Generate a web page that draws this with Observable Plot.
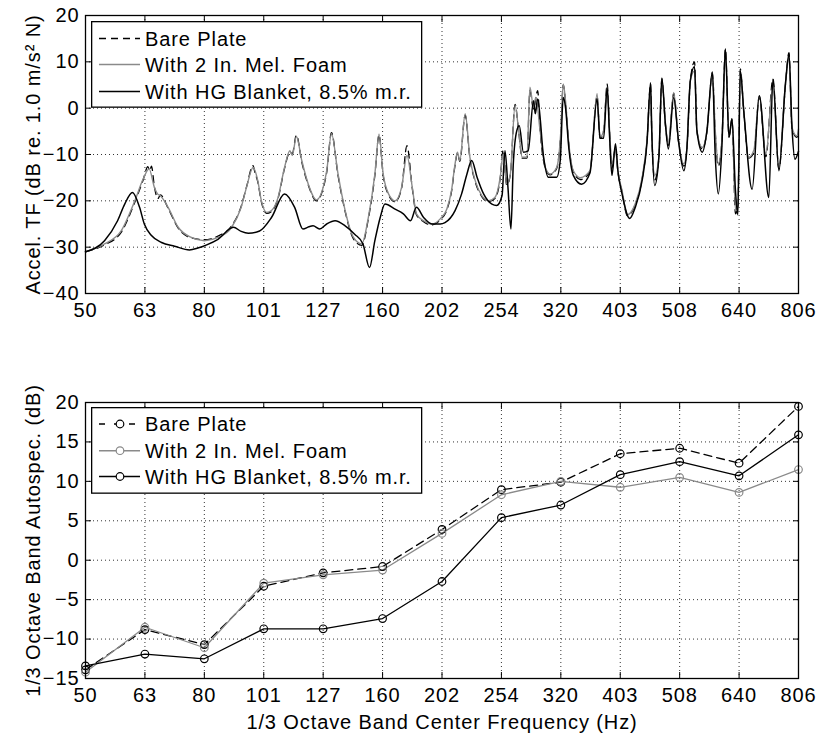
<!DOCTYPE html>
<html><head><meta charset="utf-8">
<script src="https://cdn.jsdelivr.net/npm/d3@7"></script>
<script src="https://cdn.jsdelivr.net/npm/@observablehq/plot@0.6"></script>
<style>
html,body{margin:0;padding:0;background:#fff;overflow:hidden;}
#wrap{position:relative;width:822px;height:734px;font-family:"Liberation Sans",Arial,sans-serif;}
#wrap svg{display:block;}
.legend{position:absolute;}
</style></head><body><div id="wrap"></div>
<script>
// 1/3 octave band positions (0 = 50 Hz band ... 12 = 806 Hz band) and their labels
const bandPos = [0,1,2,3,4,5,6,7,8,9,10,11,12];
const bandLabels = ["50","63","80","101","127","160","202","254","320","403","508","640","806"];
const tfTicks = [-40,-30,-20,-10,0,10,20];
const bandTicks = [-15,-10,-5,0,5,10,15,20];

// Top: accel. transfer function [band position, dB]
const bareTF = [[0,-31],[0.32,-29.5],[0.6,-26.8],[0.83,-20.3],[0.97,-15.5],[1.05,-12.6],[1.08,-13.5],[1.11,-12.5],[1.16,-17],[1.22,-19.5],[1.26,-18.7],[1.39,-21.6],[1.56,-25.9],[1.78,-28],[2.0,-28.4],[2.23,-27.6],[2.46,-25.4],[2.62,-21.2],[2.71,-17],[2.82,-12.4],[2.85,-13.8],[2.9,-15.9],[2.96,-20.2],[3.05,-22.7],[3.13,-22.3],[3.24,-19.5],[3.35,-13],[3.44,-9.5],[3.48,-9.8],[3.55,-5.8],[3.64,-11.6],[3.75,-16.6],[3.89,-20],[4.0,-17.3],[4.06,-13.8],[4.14,-5.3],[4.25,-14.5],[4.37,-22.3],[4.51,-28.2],[4.65,-29.6],[4.76,-23.9],[4.87,-14.5],[4.94,-5.8],[5.01,-14.5],[5.1,-18.7],[5.21,-20.2],[5.32,-17.3],[5.41,-8.1],[5.5,-17.3],[5.57,-23],[5.69,-24.5],[5.83,-25.2],[5.97,-24.1],[6.08,-22],[6.16,-18],[6.22,-12.3],[6.26,-9.7],[6.3,-11.5],[6.39,-1.5],[6.47,-10.8],[6.56,-15.9],[6.67,-19.1],[6.78,-20.2],[6.89,-19.5],[6.98,-15.1],[7.03,-9],[7.09,-16.6],[7.15,-14.4],[7.23,0.8],[7.29,-5],[7.35,-10.8],[7.43,-10.8],[7.48,3.8],[7.54,-0.2],[7.61,3.8],[7.65,-4.5],[7.74,-13],[7.82,-14.4],[7.93,-13],[8.0,-5.2],[8.04,5],[8.08,1.2],[8.13,-7.2],[8.21,-13.7],[8.33,-15.4],[8.49,-13.7],[8.61,2.6],[8.66,-6.5],[8.72,-5],[8.78,5.2],[8.82,-5],[8.86,-13],[8.92,-8.5],[8.96,-13.7],[9.03,-18],[9.12,-23.2],[9.25,-20.9],[9.37,-15.1],[9.45,-7.2],[9.51,5.2],[9.53,-5],[9.58,-15.5],[9.65,-10.8],[9.7,6.3],[9.76,-3.6],[9.81,-8],[9.9,3.2],[9.98,-7.2],[10.07,-12.5],[10.12,-9.2],[10.18,6],[10.25,10],[10.29,-5],[10.38,-8.8],[10.46,-5],[10.55,7.6],[10.6,-5.5],[10.65,-12.5],[10.71,-7.2],[10.77,12.8],[10.83,-6.2],[10.88,-2.5],[10.94,-22.8],[10.98,-21],[11.02,8.5],[11.08,-1],[11.16,-10.8],[11.25,-9.5],[11.34,2.5],[11.45,-10.5],[11.57,6.3],[11.67,-13.2],[11.78,5],[11.84,12],[11.89,-4.3],[11.97,-6.3],[12,-5]];
const foamTF = [[0,-31],[0.32,-29.3],[0.6,-26.5],[0.83,-20],[0.97,-15.3],[1.07,-13.1],[1.16,-17.1],[1.22,-18.6],[1.26,-18.9],[1.39,-21.4],[1.56,-25.7],[1.78,-27.9],[2.0,-28.6],[2.23,-27.9],[2.46,-25.7],[2.62,-21.4],[2.71,-17.1],[2.82,-12.8],[2.9,-15.7],[2.96,-20],[3.05,-22.5],[3.13,-22.1],[3.24,-19.3],[3.35,-12.8],[3.44,-9.2],[3.48,-10.2],[3.55,-6.1],[3.64,-11.3],[3.75,-16.4],[3.89,-19.8],[4.0,-17.1],[4.06,-13.5],[4.14,-5.5],[4.25,-14.2],[4.37,-22.1],[4.51,-27.9],[4.65,-29.3],[4.76,-23.6],[4.87,-14.2],[4.94,-5.6],[5.01,-14.2],[5.1,-18.5],[5.21,-20],[5.32,-17.1],[5.41,-10.2],[5.5,-17.1],[5.57,-22.8],[5.69,-24.3],[5.83,-25],[5.97,-23.9],[6.08,-21.8],[6.16,-17.8],[6.22,-12],[6.26,-9.5],[6.3,-11.3],[6.39,-1.2],[6.47,-10.6],[6.56,-15.7],[6.67,-18.9],[6.78,-20],[6.89,-19.3],[6.98,-14.9],[7.03,-9.9],[7.09,-16.4],[7.15,-14.2],[7.23,0.6],[7.29,-4.8],[7.35,-10.6],[7.43,-10.6],[7.48,4.5],[7.54,0.2],[7.58,2.3],[7.65,-4.8],[7.74,-12.8],[7.82,-14.2],[7.93,-12.8],[8.0,-5],[8.04,5.2],[8.08,1.5],[8.13,-7],[8.21,-13.5],[8.33,-15],[8.49,-13.5],[8.61,3.1],[8.66,-6.3],[8.72,-4.8],[8.78,4.5],[8.82,-4.8],[8.86,-12],[8.92,-9],[8.96,-13.5],[9.03,-17.8],[9.12,-23],[9.25,-20.7],[9.37,-14.9],[9.45,-7],[9.51,4],[9.53,-4.8],[9.58,-14.5],[9.65,-10.6],[9.7,6.3],[9.76,-3.4],[9.81,-7.5],[9.9,3.4],[9.98,-7],[10.07,-12],[10.12,-9],[10.18,6],[10.25,8],[10.29,-4.8],[10.38,-8.5],[10.46,-4.8],[10.55,7.8],[10.6,-5],[10.65,-12],[10.71,-7],[10.77,12],[10.83,-6],[10.88,-2.3],[10.94,-22.1],[10.98,-20],[11.02,8.1],[11.08,-0.8],[11.16,-10.6],[11.25,-9],[11.34,2.7],[11.45,-10],[11.57,5],[11.67,-12.8],[11.78,5.2],[11.84,11],[11.89,-4.1],[11.97,-6],[12,-4.5]];
const hgTF = [[0,-31],[0.32,-28.6],[0.54,-24.3],[0.66,-20.7],[0.79,-18.2],[0.91,-21.4],[0.99,-25],[1.11,-27.5],[1.28,-29],[1.5,-29.8],[1.75,-30.6],[1.89,-30.2],[2.04,-29.5],[2.23,-28.3],[2.49,-25.7],[2.62,-26.6],[2.74,-27],[2.93,-26.5],[3.13,-23.6],[3.35,-18.5],[3.52,-21.4],[3.66,-26.1],[3.76,-25.6],[3.83,-25.4],[3.94,-26.1],[4.06,-25],[4.2,-24.3],[4.37,-25.4],[4.53,-27.2],[4.67,-29.3],[4.78,-34.4],[4.87,-28.6],[4.96,-23.6],[5.04,-20.7],[5.21,-21.8],[5.35,-22.8],[5.47,-24.3],[5.57,-21.4],[5.69,-23.6],[5.83,-25],[5.97,-25],[6.05,-24.7],[6.22,-22.1],[6.33,-18.5],[6.42,-14.2],[6.5,-11.3],[6.59,-14.9],[6.7,-18.5],[6.84,-20.7],[6.92,-21],[7.01,-18.9],[7.06,-9.2],[7.11,-17.1],[7.16,-26.1],[7.2,-12],[7.26,-4.8],[7.3,-3.8],[7.37,-9.5],[7.45,-9.2],[7.54,1.6],[7.57,-1.2],[7.61,2],[7.71,-10.6],[7.79,-14.9],[7.93,-14.9],[7.99,-11.3],[8.04,2.3],[8.08,0],[8.13,-8],[8.21,-14.5],[8.35,-16.4],[8.49,-14],[8.61,2],[8.66,-6.5],[8.72,-6.5],[8.78,4.5],[8.82,-6],[8.86,-14.5],[8.92,-7.7],[8.96,-13.5],[9.03,-18.5],[9.16,-23.8],[9.25,-21.5],[9.37,-15.5],[9.45,-7.5],[9.51,5.5],[9.53,-4.8],[9.58,-16.7],[9.65,-10.6],[9.7,6.5],[9.76,-3.4],[9.81,-8.8],[9.9,2.3],[9.98,-7],[10.07,-13.5],[10.12,-9],[10.18,6],[10.25,9],[10.29,-4.8],[10.38,-9.5],[10.46,-4.8],[10.55,7.8],[10.6,-10.6],[10.65,-18.5],[10.71,-8.5],[10.77,12.8],[10.83,-6.3],[10.88,-2.3],[10.94,-18],[10.98,-23],[11.02,8.1],[11.08,-0.8],[11.22,-17.5],[11.34,2.7],[11.5,-19.3],[11.57,6.3],[11.67,-13.5],[11.78,5.2],[11.84,11.7],[11.89,-4.1],[11.94,-11],[12,-9.3]];

// Bottom: 1/3 octave band autospectrum (dB), one value per band
const bareBand = [-13.9,-8.8,-10.7,-3.3,-1.6,-0.8,3.9,8.95,9.9,13.5,14.2,12.3,19.5];
const foamBand = [-14.2,-8.5,-11.1,-2.9,-1.85,-1.25,3.4,8.3,10.0,9.25,10.5,8.6,11.5];
const hgBand   = [-13.4,-11.9,-12.5,-8.7,-8.7,-7.4,-2.7,5.4,7.0,10.85,12.5,10.7,15.9];

const seriesNames = ["Bare Plate","With 2 In. Mel. Foam","With HG Blanket, 8.5% m.r."];
const GRAY = "#8a8a8a";

const FONT = '"Liberation Sans", Arial, sans-serif';
const gridStyle = {stroke: "#000", strokeOpacity: 0.8, strokeDasharray: "1,3"};

function panel({height, marginTop, marginBottom, yDomain, yTicks, yLabel, xLabel, marks}) {
  return Plot.plot({
    width: 822, height, marginLeft: 85, marginRight: 24, marginTop, marginBottom,
    style: {fontFamily: FONT, fontSize: "20px", letterSpacing: "0.9px", color: "#000", background: "transparent", overflow: "visible"},
    x: {domain: [0, 12]},
    y: {domain: yDomain},
    marks: [
      Plot.gridX(bandPos, gridStyle),
      Plot.gridY(yTicks, gridStyle),
      ...marks,
      Plot.axisX(bandPos, {anchor: "bottom", tickSize: 0, tickPadding: 9, tickFormat: i => bandLabels[i], label: xLabel, labelAnchor: "center", labelOffset: 50, labelArrow: "none"}),
      Plot.axisX(bandPos, {anchor: "bottom", tickSize: -6, tickFormat: () => "", label: null}),
      Plot.axisX(bandPos, {anchor: "top", tickSize: -6, tickFormat: () => "", label: null}),
      Plot.axisY(yTicks, {anchor: "left", tickSize: 0, tickPadding: 6, label: yLabel, labelAnchor: "center", labelOffset: 60, labelArrow: "none"}),
      Plot.axisY(yTicks, {anchor: "left", tickSize: -6, tickFormat: () => "", label: null}),
      Plot.axisY(yTicks, {anchor: "right", tickSize: -6, tickFormat: () => "", label: null}),
      Plot.frame({stroke: "#000", strokeWidth: 1.3})
    ]
  });
}

const topPlot = panel({
  height: 330, marginTop: 15, marginBottom: 37,
  yDomain: [-40, 20], yTicks: tfTicks,
  yLabel: "Accel. TF (dB re. 1.0 m/s² N)", xLabel: null,
  marks: [
    Plot.line(bareTF, {x: d => d[0], y: d => d[1], curve: "monotone-x", stroke: "#000", strokeWidth: 1.3, strokeDasharray: "7,5"}),
    Plot.line(foamTF, {x: d => d[0], y: d => d[1], curve: "monotone-x", stroke: GRAY, strokeWidth: 1.4}),
    Plot.line(hgTF, {x: d => d[0], y: d => d[1], curve: "monotone-x", stroke: "#000", strokeWidth: 1.5})
  ]
});

const bandRows = bandPos.map(i => ({i, bare: bareBand[i], foam: foamBand[i], hg: hgBand[i]}));
const bottomPlot = panel({
  height: 404, marginTop: 72, marginBottom: 56,
  yDomain: [-15, 20], yTicks: bandTicks,
  yLabel: "1/3 Octave Band Autospec. (dB)", xLabel: "1/3 Octave Band Center Frequency (Hz)",
  marks: [
    Plot.line(bandRows, {x: "i", y: "bare", stroke: "#000", strokeWidth: 1.3, strokeDasharray: "8,5"}),
    Plot.line(bandRows, {x: "i", y: "foam", stroke: GRAY, strokeWidth: 1.3}),
    Plot.line(bandRows, {x: "i", y: "hg", stroke: "#000", strokeWidth: 1.3}),
    Plot.dot(bandRows, {x: "i", y: "bare", r: 3.8, stroke: "#000", fill: "none", strokeWidth: 1.2}),
    Plot.dot(bandRows, {x: "i", y: "foam", r: 3.8, stroke: GRAY, fill: "none", strokeWidth: 1.2}),
    Plot.dot(bandRows, {x: "i", y: "hg", r: 3.8, stroke: "#000", fill: "none", strokeWidth: 1.2})
  ]
});

const wrap = document.getElementById("wrap");
wrap.appendChild(topPlot);
wrap.appendChild(bottomPlot);

// Legends (inside the plot area, top-left)
function legend(left, topPx, rowsY, withMarkers, dashes) {
  const NS = "http://www.w3.org/2000/svg";
  const svg = document.createElementNS(NS, "svg");
  svg.setAttribute("class", "legend");
  svg.setAttribute("width", 332); svg.setAttribute("height", 88);
  svg.style.left = left + "px"; svg.style.top = topPx + "px";
  svg.style.fontFamily = FONT; svg.style.fontSize = "20px"; svg.style.letterSpacing = "0.9px";
  const rect = document.createElementNS(NS, "rect");
  rect.setAttribute("x", 0.65); rect.setAttribute("y", 0.65);
  rect.setAttribute("width", 330); rect.setAttribute("height", 85.5);
  rect.setAttribute("fill", "#fff"); rect.setAttribute("stroke", "#000"); rect.setAttribute("stroke-width", 1.3);
  svg.appendChild(rect);
  const colors = ["#000", GRAY, "#000"];
  seriesNames.forEach((name, k) => {
    const y = rowsY[k];
    const ln = document.createElementNS(NS, "line");
    ln.setAttribute("x1", 8); ln.setAttribute("x2", 49); ln.setAttribute("y1", y); ln.setAttribute("y2", y);
    ln.setAttribute("stroke", colors[k]); ln.setAttribute("stroke-width", 1.4);
    if (k === 0) ln.setAttribute("stroke-dasharray", dashes);
    svg.appendChild(ln);
    if (withMarkers) {
      const c = document.createElementNS(NS, "circle");
      c.setAttribute("cx", 29); c.setAttribute("cy", y); c.setAttribute("r", 3.8);
      c.setAttribute("fill", "#fff"); c.setAttribute("stroke", colors[k]); c.setAttribute("stroke-width", 1.2);
      svg.appendChild(c);
    }
    const t = document.createElementNS(NS, "text");
    t.setAttribute("x", 54); t.setAttribute("y", y); t.setAttribute("dy", "0.36em");
    t.setAttribute("fill", "#000");
    t.textContent = name;
    svg.appendChild(t);
  });
  wrap.appendChild(svg);
}
legend(91, 21, [17.5, 43.5, 70.5], false, "7,5");
legend(91, 407, [17, 43.7, 69.5], true, "6,9");
</script></body></html>
